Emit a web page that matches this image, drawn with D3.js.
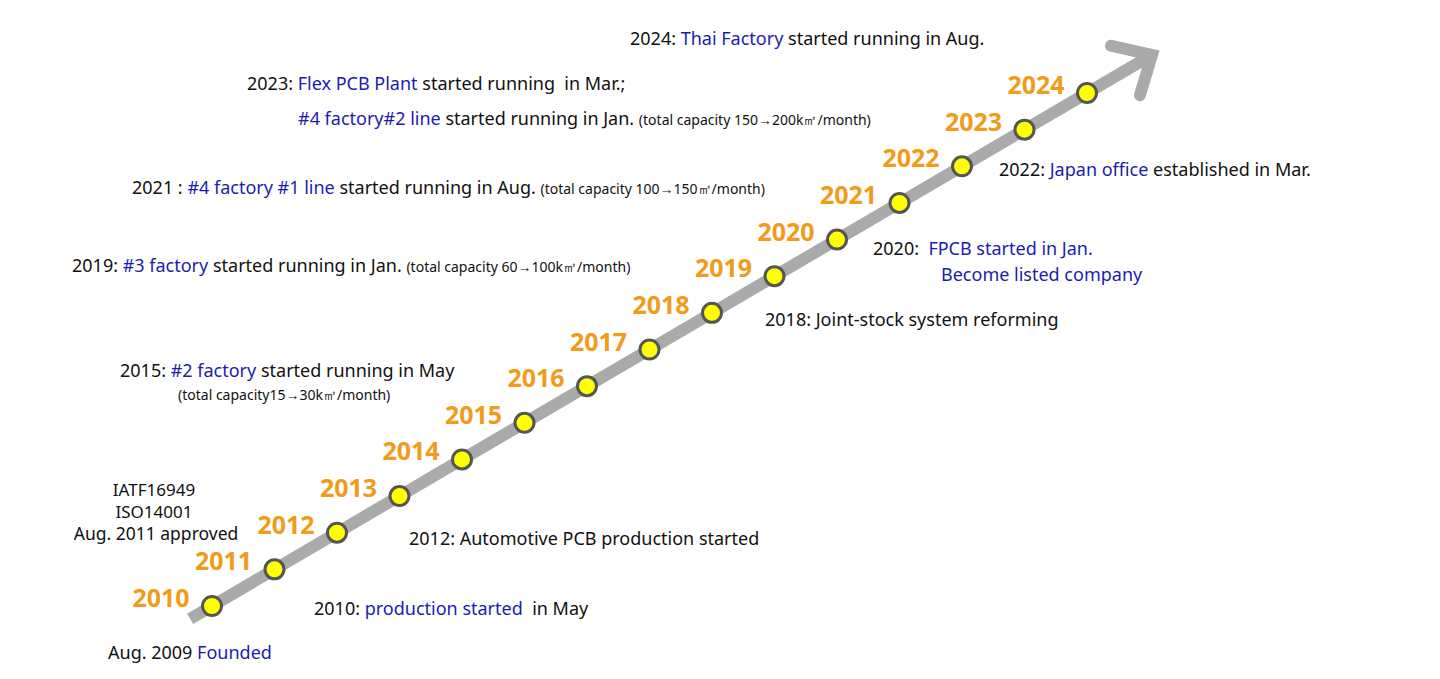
<!DOCTYPE html>
<html><head><meta charset="utf-8">
<script src="https://cdn.jsdelivr.net/npm/d3@7"></script>
<style>body{margin:0;background:#fff}text{font-family:"Noto Sans",sans-serif}</style>
</head><body>
<svg id="chart" width="1440" height="679"></svg>
<script>
const years = [2010,2011,2012,2013,2014,2015,2016,2017,2018,2019,2020,2021,2022,2023,2024];
// annotation lines: [x, y, size, anchor, segments([text, blue?, small?])]
const notes = [
  [630, 45, 18, "start", [["2024: "],["Thai Factory",1],[" started running in Aug."]]],
  [247, 90, 18, "start", [["2023: "],["Flex PCB Plant",1],[" started running  in Mar.;"]]],
  [298, 125, 18, "start", [["#4 factory#2 line",1],[" started running in Jan. "],["(total capacity 150→200k㎡/month)",0,1]]],
  [132, 194, 18, "start", [["2021 : "],["#4 factory #1 line",1],[" started running in Aug. "],["(total capacity 100→150㎡/month)",0,1]]],
  [72, 272, 18, "start", [["2019: "],["#3 factory",1],[" started running in Jan. "],["(total capacity 60→100k㎡/month)",0,1]]],
  [120, 377, 18, "start", [["2015: "],["#2 factory",1],[" started running in May"]]],
  [178, 400, 14, "start", [["(total capacity15→30k㎡/month)"]]],
  [154, 496, 17, "middle", [["IATF16949"]]],
  [154, 518, 17, "middle", [["ISO14001"]]],
  [156, 540, 17.5, "middle", [["Aug. 2011 approved"]]],
  [409, 545, 18, "start", [["2012: Automotive PCB production started"]]],
  [314, 615, 18, "start", [["2010: "],["production started",1],["  in May"]]],
  [108, 659, 18, "start", [["Aug. 2009 "],["Founded",1]]],
  [765, 326, 18, "start", [["2018: Joint-stock system reforming"]]],
  [873, 255, 18, "start", [["2020:  "],["FPCB started in Jan.",1]]],
  [941, 281, 18, "start", [["Become listed company",1]]],
  [999, 176, 18, "start", [["2022: "],["Japan office",1],[" established in Mar."]]]
];

const svg = d3.select("#chart");
const x = d3.scaleLinear().domain([2010, 2024]).range([212, 1087]);
const y = d3.scaleLinear().domain([2010, 2024]).range([606, 93]);

const grey = "#aaaaaa";
const tipYear = 2025.04;
svg.append("line")
    .attr("x1", x(2009.65)).attr("y1", y(2009.65))
    .attr("x2", x(tipYear - 0.05)).attr("y2", y(tipYear - 0.05))
    .attr("stroke", grey).attr("stroke-width", 12);

// arrow head
const tx = x(tipYear), ty = y(tipYear);
const ang = Math.atan2(y(2024) - y(2010), x(2024) - x(2010));
const armLen = 42, spread = 0.75;
const arm = s => [tx - armLen * Math.cos(ang + s), ty - armLen * Math.sin(ang + s)];
svg.append("path")
    .attr("d", d3.line()([arm(spread), [tx, ty], arm(-spread)]))
    .attr("fill", "none").attr("stroke", grey).attr("stroke-width", 12)
    .attr("stroke-linecap", "round").attr("stroke-linejoin", "miter");

svg.selectAll("circle.dot").data(years).join("circle")
    .attr("cx", d => x(d)).attr("cy", d => y(d)).attr("r", 9.5)
    .attr("fill", "#ffff00").attr("stroke", "#555").attr("stroke-width", 3);

svg.selectAll("text.year").data(years).join("text")
    .attr("x", d => x(d) - 51).attr("y", d => y(d) + 1)
    .attr("text-anchor", "middle")
    .attr("fill", "#f09c1a").style("font-size", "25px").style("font-weight", "bold")
    .text(d => d);

notes.forEach(([nx, ny, size, anchor, segs]) => {
    const t = svg.append("text").attr("x", nx).attr("y", ny)
        .attr("text-anchor", anchor).style("font-size", size + "px").attr("fill", "#111");
    segs.forEach(([s, blue, small]) => {
        t.append("tspan").text(s)
            .attr("fill", blue ? "#1c1cb0" : "#111")
            .style("font-size", small ? "14px" : null)
            .attr("xml:space", "preserve");
    });
});
</script>
</body></html>
